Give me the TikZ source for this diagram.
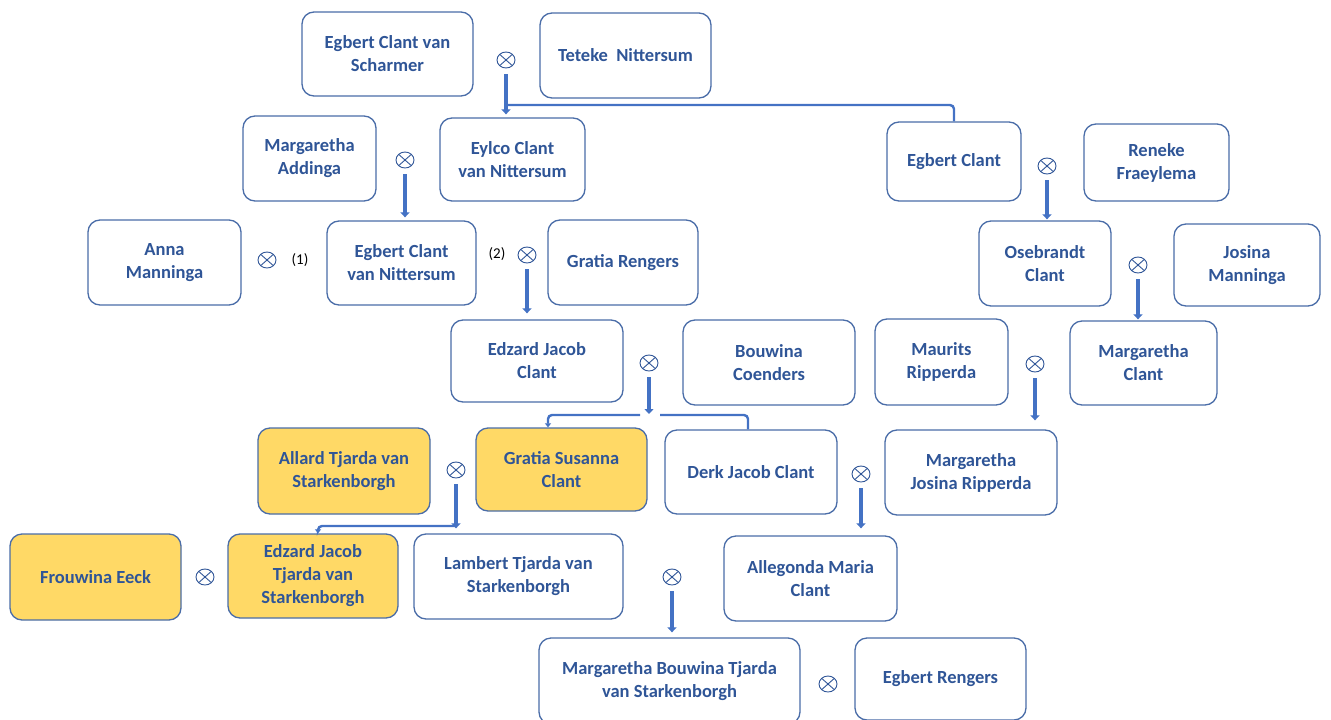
\documentclass[tikz,border=0pt]{standalone}
\usepackage{fontspec}
\setmainfont{Carlito}
\usetikzlibrary{arrows.meta,calc,shapes.geometric}
\definecolor{tblue}{HTML}{2F5597}
\definecolor{bord}{HTML}{4A6DA8}
\definecolor{abl}{HTML}{4472C4}
\definecolor{yel}{HTML}{FFD966}
\begin{document}
\begin{tikzpicture}[x=1pt,y=-1pt,
 person/.style={draw=bord, line width=1.3pt, rounded corners=12pt, align=center,
   font=\bfseries\fontsize{18.5}{23}\selectfont, text=tblue, inner sep=0pt, fill=white},
 hl/.style={fill=yel},
 marr/.style={draw=tblue, line width=0.9pt, ellipse, minimum width=18pt, minimum height=16pt, inner sep=0pt,
   path picture={\draw[tblue, line width=0.9pt] (path picture bounding box.south west) -- (path picture bounding box.north east)
     (path picture bounding box.north west) -- (path picture bounding box.south east);}},
 arr/.style={draw=abl, line width=3.6pt, -{Triangle[width=9pt,length=5pt]}, shorten <=6pt},
 brl/.style={draw=abl, line width=2.4pt, rounded corners=4pt},
 brarr/.style={brl, -{Triangle[width=6pt,length=4pt]}},
 num/.style={font=\fontsize{15}{17}\selectfont, text=black}
]
\useasboundingbox (0,0) rectangle (1331,720);
% persons
\node[person, minimum width=171pt, minimum height=84pt] (scharmer) at (387.5,54) {Egbert Clant van\\Scharmer};
\node[person, minimum width=171pt, minimum height=85pt] (teteke) at (625.5,55.5) {Teteke\ \ Nittersum};
\node[person, minimum width=133pt, minimum height=85pt] (addinga) at (309.5,158.5) {Margaretha\\Addinga};
\node[person, minimum width=145pt, minimum height=83pt] (eylco) at (512.5,159.5) {Eylco Clant\\van Nittersum};
\node[person, minimum width=134pt, minimum height=79pt] (egbert) at (954,161.5) {Egbert Clant};
\node[person, minimum width=145pt, minimum height=77pt] (reneke) at (1156.5,162.5) {Reneke\\Fraeylema};
\node[person, minimum width=153pt, minimum height=85pt] (anna) at (164.5,262.5) {Anna\\Manninga};
\node[person, minimum width=149pt, minimum height=84pt] (egbertn) at (401.5,263) {Egbert Clant\\van Nittersum};
\node[person, minimum width=150pt, minimum height=85pt] (gratiar) at (623,262.5) {Gratia Rengers};
\node[person, minimum width=132pt, minimum height=85pt] (osebrandt) at (1045,263.5) {Osebrandt\\Clant};
\node[person, minimum width=146pt, minimum height=82pt] (josina) at (1247,265) {Josina\\Manninga};
\node[person, minimum width=172pt, minimum height=82pt] (edzard) at (537,361) {Edzard Jacob\\Clant};
\node[person, minimum width=172pt, minimum height=85pt] (bouwina) at (769,362.5) {Bouwina\\Coenders};
\node[person, minimum width=133pt, minimum height=86pt] (maurits) at (941.5,362) {Maurits\\Ripperda};
\node[person, minimum width=147pt, minimum height=84pt] (margc) at (1143.5,363) {Margaretha\\Clant};
\node[person, hl, minimum width=172pt, minimum height=86pt] (allard) at (344,471) {Allard Tjarda van\\Starkenborgh};
\node[person, hl, minimum width=171pt, minimum height=83pt] (gratias) at (561.5,469.5) {Gratia Susanna\\Clant};
\node[person, minimum width=172pt, minimum height=84pt] (derk) at (751,472) {Derk Jacob Clant};
\node[person, minimum width=172pt, minimum height=85pt] (mjr) at (971,472.5) {Margaretha\\Josina Ripperda};
\node[person, hl, minimum width=171pt, minimum height=86pt] (frouwina) at (95.5,577) {Frouwina Eeck};
\node[person, hl, minimum width=170pt, minimum height=84pt] (edzardt) at (313,576) {Edzard Jacob\\Tjarda van\\Starkenborgh};
\node[person, minimum width=209pt, minimum height=85pt] (lambert) at (518.5,576.5) {Lambert Tjarda van\\Starkenborgh};
\node[person, minimum width=173pt, minimum height=85pt] (allegonda) at (810.5,578.5) {Allegonda Maria\\Clant};
\node[person, minimum width=261pt, minimum height=86pt] (mbts) at (669.5,681) {Margaretha Bouwina Tjarda\\van Starkenborgh};
\node[person, minimum width=171pt, minimum height=82pt] (rengers) at (940.5,679) {Egbert Rengers};
% marriage symbols
\node[marr] (m1) at (506,60) {};
\node[marr] (m2) at (405,160) {};
\node[marr] (m3) at (267,260) {};
\node[marr] (m4) at (527,255) {};
\node[marr] (m5) at (1047,166) {};
\node[marr] (m6) at (1138,265) {};
\node[marr] (m7) at (649,363) {};
\node[marr] (m8) at (1035,364) {};
\node[marr] (m9) at (456,470) {};
\node[marr] (m10) at (861,474) {};
\node[marr] (m11) at (205,577) {};
\node[marr] (m12) at (672,577) {};
\node[marr] (m13) at (828,684) {};
\node[num] (n1) at (300,260) {(1)};
\node[num] (n2) at (497,254) {(2)};
% junction coordinates
\coordinate (j1) at (506,105);
\coordinate (j7) at (649,415);
\coordinate (j7a) at (640,415);
\coordinate (j7b) at (660,415);
\coordinate (g7) at (548,415);
\coordinate (d7) at (748,415);
\coordinate (j9) at (456,526);
\coordinate (e9) at (318,526);
% connectors
\draw[arr] (m1.south) -- ($(m1 |- eylco.north)+(0,-3)$);
\draw[brl] (j1) -- (j1 -| egbert.north) -- (egbert.north);
\draw[arr] (m2.south) -- ($(m2 |- egbertn.north)+(0,-3)$);
\draw[arr] (m4.south) -- ($(m4 |- edzard.north)+(0,-6)$);
\draw[arr] (m5.south) -- ($(m5 |- osebrandt.north)+(0,-1)$);
\draw[arr] (m6.south) -- ($(m6 |- margc.north)+(0,-1)$);
\draw[arr] (m7.south) -- ($(j7)+(0,-1)$);
\draw[brarr] (j7a) -- (g7) -- (g7 |- gratias.north);
\draw[brl] (j7b) -- (d7) -- (d7 |- derk.north);
\draw[arr] (m8.south) -- ($(m8 |- mjr.north)+(0,-9)$);
\draw[arr] (m9.south) -- ($(m9 |- lambert.north)+(0,-5)$);
\draw[brarr] (j9) -- (e9) -- (e9 |- edzardt.north);
\draw[arr] (m10.south) -- ($(m10 |- allegonda.north)+(0,-7)$);
\draw[arr] (m12.south) -- ($(m12 |- mbts.north)+(0,-5)$);
\end{tikzpicture}
\end{document}
